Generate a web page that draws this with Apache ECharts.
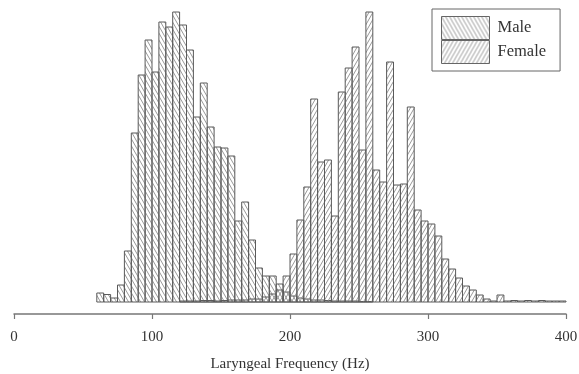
<!DOCTYPE html>
<html>
<head>
<meta charset="utf-8">
<script src="https://cdn.jsdelivr.net/npm/echarts@6/dist/echarts.min.js"></script>
<style>
  html, body { margin: 0; padding: 0; background: #fff; }
  #chart { width: 579px; height: 374px; }
</style>
</head>
<body>
<div id="chart"></div>
<script>
// bin starts (Hz), each bin is 5 Hz wide
const bins = [60, 65, 70, 75, 80, 85, 90, 95, 100, 105, 110, 115, 120, 125, 130, 135,
  140, 145, 150, 155, 160, 165, 170, 175, 180, 185, 190, 195, 200, 205, 210, 215,
  220, 225, 230, 235, 240, 245, 250, 255, 260, 265, 270, 275, 280, 285, 290, 295,
  300, 305, 310, 315, 320, 325, 330, 335, 340, 345, 350, 355, 360, 365, 370, 375,
  380, 385, 390, 395];
const binWidth = 5;

const maleCounts = [9, 7.5, 4, 17, 51, 169, 227, 262, 230, 280, 275, 290, 277, 252, 185, 219,
  175, 155, 154, 146, 81, 100, 62, 34, 26, 26, 18, 10, 6, 4, 3, 2,
  2, 1.5, 1, 1, 1, 1, 0.5, 0.5, 0, 0, 0, 0, 0, 0, 0, 0,
  0, 0, 0, 0, 0, 0, 0, 0, 0, 0, 0, 0, 0, 0, 0, 0,
  0, 0, 0, 0];

const femaleCounts = [0, 0, 0, 0, 0, 0, 0, 0, 0, 0, 0, 0, 1, 1, 1, 1.5,
  1.5, 1, 1.5, 2, 2, 2, 3, 3, 5, 8, 12, 26, 48, 82, 115, 203,
  140, 142, 86, 210, 234, 255, 152, 290, 132, 120, 240, 117, 118, 195, 92, 81,
  78, 66, 43, 33, 24, 16, 12, 7, 3, 1, 7, 1, 1.5, 1, 1.5, 1,
  1.5, 1, 1, 1];

const xTicks = [0, 100, 200, 300, 400];

// diagonal hatch tile; dir 1 = "\" , -1 = "/"
function hatch(dir) {
  const w = 8, h = 14;
  const c = document.createElement("canvas");
  c.width = w;
  c.height = h;
  const ctx = c.getContext("2d");
  ctx.strokeStyle = "#8c8c8c";
  ctx.lineWidth = 0.9;
  for (let k = -2; k <= 2; k++) {
    const off = k * 4;
    ctx.beginPath();
    if (dir > 0) {
      ctx.moveTo(off, 0);
      ctx.lineTo(off + w, h);
    } else {
      ctx.moveTo(off, h);
      ctx.lineTo(off + w, 0);
    }
    ctx.stroke();
  }
  return { image: c, repeat: "repeat" };
}

const malePattern = hatch(1);
const femalePattern = hatch(-1);

function toData(counts) {
  return bins.map((b, i) => [b, counts[i]]);
}

function makeRender(pattern) {
  return function (params, api) {
    const v = api.value(1);
    if (!v) return null;
    const p0 = api.coord([api.value(0), v]);
    const p1 = api.coord([api.value(0) + binWidth, 0]);
    return {
      type: "rect",
      shape: { x: p0[0], y: p0[1], width: p1[0] - p0[0], height: p1[1] - p0[1] },
      style: { fill: pattern, stroke: "#5a5a5a", lineWidth: 1 },
    };
  };
}

const serif = "Liberation Serif";

const option = {
  animation: false,
  backgroundColor: "#fff",
  // axis line sits 12px below the bars' zero line, so y starts a bit below 0
  grid: { left: 14, right: 13, top: 2, bottom: 60, outerBoundsMode: "none", containLabel: false },
  legend: {
    orient: "vertical",
    left: 432,
    top: 9,
    padding: [7, 14, 7, 9],
    itemGap: 0,
    itemWidth: 48,
    itemHeight: 23,
    icon: "rect",
    borderColor: "#666",
    borderWidth: 1,
    itemStyle: { borderWidth: 1, borderColor: "#666" },
    textStyle: { fontFamily: serif, fontSize: 16.5, color: "#333", padding: [0, 0, 0, 3] },
    data: ["Male", "Female"],
  },
  xAxis: {
    type: "value",
    min: 0,
    max: 400,
    interval: 100,
    name: "Laryngeal Frequency (Hz)",
    nameLocation: "middle",
    nameGap: 43,
    nameTextStyle: { fontFamily: serif, fontSize: 15, color: "#333" },
    axisLine: { onZero: false, lineStyle: { color: "#777", width: 1.5 } },
    axisTick: { length: 5, lineStyle: { color: "#777", width: 1.2 } },
    axisLabel: {
      fontFamily: serif,
      fontSize: 15,
      color: "#333",
      margin: 16,
      customValues: xTicks,
    },
    splitLine: { show: false },
  },
  yAxis: { type: "value", min: -12, max: 300, show: false },
  series: [
    {
      name: "Male",
      type: "custom",
      renderItem: makeRender(malePattern),
      itemStyle: { color: malePattern, borderColor: "#5a5a5a", borderWidth: 1 },
      encode: { x: 0, y: 1 },
      data: toData(maleCounts),
    },
    {
      name: "Female",
      type: "custom",
      renderItem: makeRender(femalePattern),
      itemStyle: { color: femalePattern, borderColor: "#5a5a5a", borderWidth: 1 },
      encode: { x: 0, y: 1 },
      data: toData(femaleCounts),
    },
  ],
};

const chart = echarts.init(document.getElementById("chart"));
chart.setOption(option);
</script>
</body>
</html>
